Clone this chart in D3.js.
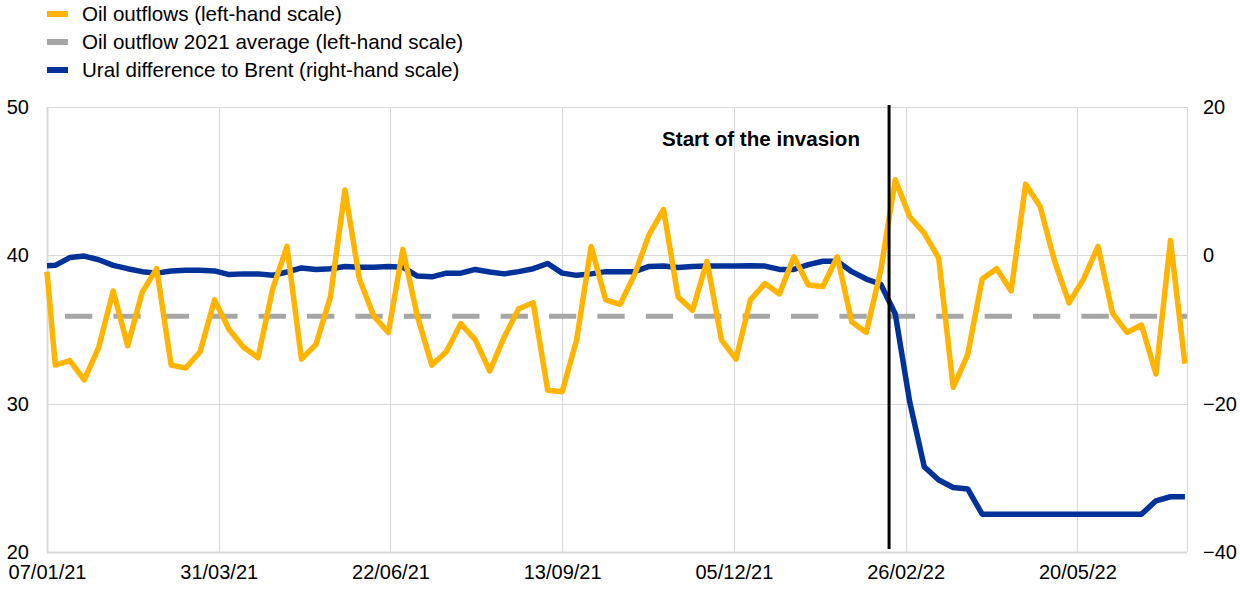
<!DOCTYPE html>
<html>
<head>
<meta charset="utf-8">
<script src="https://cdn.jsdelivr.net/npm/d3@7"></script>
<style>
  html, body { margin: 0; padding: 0; background: #fff; }
  svg { display: block; font-family: "Liberation Sans", Arial, sans-serif; }
</style>
</head>
<body>
<svg id="chart" width="1240" height="595"></svg>
<script>
// ---------------- data ----------------
const firstDate = "2021-01-07";
const firstMonday = "2021-01-11";
const lastDate = "2022-07-11";
const axisEndDate = "2022-07-12";
const xTickLabels = ["07/01/21", "31/03/21", "22/06/21", "13/09/21", "05/12/21", "26/02/22", "20/05/22"];
const leftTicks = [20, 30, 40, 50];
const rightTicks = [-40, -20, 0, 20];
const invasionDate = "2022-02-18";
const invasionLabel = "Start of the invasion";
const oilAverage2021 = 35.9;

const oilOutflows = [
  38.9, 32.6, 32.9, 31.6, 33.8, 37.6, 33.9, 37.5, 39.1, 32.6,
  32.4, 33.5, 37.0, 35.0, 33.8, 33.1, 37.7, 40.6, 33.0, 34.0,
  37.2, 44.4, 38.4, 35.9, 34.8, 40.4, 35.9, 32.6, 33.5, 35.4,
  34.3, 32.2, 34.5, 36.4, 36.8, 30.9, 30.8, 34.3, 40.6, 37.0,
  36.7, 38.7, 41.4, 43.1, 37.2, 36.3, 39.6, 34.3, 33.0, 37.0,
  38.1, 37.4, 39.9, 38.0, 37.9, 39.9, 35.5, 34.8, 39.0, 45.1,
  42.6, 41.5, 39.8, 31.1, 33.3, 38.4, 39.1, 37.6, 44.8, 43.3,
  39.6, 36.8, 38.4, 40.6, 36.1, 34.8, 35.3, 32.0, 41.0, 32.7
];
const uralDiffToBrent = [
  -1.4, -1.35, -0.3, -0.1, -0.6, -1.35, -1.8, -2.2, -2.4, -2.1,
  -2.0, -2.0, -2.1, -2.6, -2.5, -2.5, -2.7, -2.25, -1.7, -1.9,
  -1.8, -1.5, -1.6, -1.6, -1.5, -1.6, -2.8, -2.9, -2.4, -2.4,
  -1.9, -2.25, -2.5, -2.2, -1.8, -1.1, -2.4, -2.7, -2.5, -2.2,
  -2.2, -2.2, -1.5, -1.45, -1.65, -1.5, -1.45, -1.45, -1.45, -1.4,
  -1.45, -1.9, -1.9, -1.25, -0.8, -0.8, -2.2, -3.2, -3.9, -7.9,
  -19.8, -28.5, -30.3, -31.3, -31.5, -34.9, -34.9, -34.9, -34.9, -34.9,
  -34.9, -34.9, -34.9, -34.9, -34.9, -34.9, -34.9, -33.1, -32.55, -32.55
];
const legendItems = [
  { label: "Oil outflows (left-hand scale)", color: "#FFB400" },
  { label: "Oil outflow 2021 average (left-hand scale)", color: "#A6A6A6" },
  { label: "Ural difference to Brent (right-hand scale)", color: "#003299" }
];

// ---------------- setup ----------------
const parseISO = d3.utcParse("%Y-%m-%d");
const parseTick = d3.utcParse("%d/%m/%y");
const dates = [parseISO(firstDate)].concat(
  d3.utcMonday.range(parseISO(firstMonday), d3.utcDay.offset(parseISO(lastDate), 1))
);

const margin = { left: 47, right: 1187, top: 107, bottom: 552 };
const svg = d3.select("#chart");

const x = d3.scaleUtc().domain([parseISO(firstDate), parseISO(axisEndDate)]).range([margin.left, margin.right]);
const yL = d3.scaleLinear().domain([20, 50]).range([margin.bottom, margin.top]);
const yR = d3.scaleLinear().domain([-40, 20]).range([margin.bottom, margin.top]);

const tickDates = xTickLabels.map(parseTick);
const gridColor = "#D9D9D9";
const fontSize = 20;
const textSize = 20.6;

// gridlines
const grid = svg.append("g");
grid.selectAll("line.h").data(leftTicks).join("line")
  .attr("x1", margin.left).attr("x2", margin.right)
  .attr("y1", d => Math.round(yL(d)) + 0.5).attr("y2", d => Math.round(yL(d)) + 0.5)
  .attr("stroke", gridColor).attr("stroke-width", d => d === 20 ? 2 : 1);
grid.selectAll("line.v").data(tickDates.concat([parseISO(axisEndDate)])).join("line")
  .attr("x1", d => Math.round(x(d)) + 0.5).attr("x2", d => Math.round(x(d)) + 0.5)
  .attr("y1", margin.top).attr("y2", margin.bottom)
  .attr("stroke", gridColor).attr("stroke-width", (d, i) => i === 0 ? 2 : 1);

// axes labels via d3 axes
const axisLeft = d3.axisLeft(yL).tickValues(leftTicks).tickSize(0).tickPadding(18);
const gL = svg.append("g").attr("transform", `translate(${margin.left},0)`).call(axisLeft);
const axisRight = d3.axisRight(yR).tickValues(rightTicks).tickSize(0).tickPadding(16);
const gR = svg.append("g").attr("transform", `translate(${margin.right},0)`).call(axisRight);
const axisBottom = d3.axisBottom(x).tickValues(tickDates).tickSize(0).tickPadding(13)
  .tickFormat((d, i) => xTickLabels[i]);
const gB = svg.append("g").attr("transform", `translate(0,${margin.bottom})`).call(axisBottom);
[gL, gR, gB].forEach(g => {
  g.select(".domain").remove();
  g.selectAll("text").attr("font-size", fontSize).attr("fill", "#000")
    .attr("font-family", "'Liberation Sans', Arial, sans-serif");
});

// average line
svg.append("line")
  .attr("x1", margin.left).attr("x2", margin.right)
  .attr("y1", yL(oilAverage2021)).attr("y2", yL(oilAverage2021))
  .attr("stroke", "#A6A6A6").attr("stroke-width", 5)
  .attr("stroke-dasharray", "27.3 21.1").attr("stroke-dashoffset", 48.4 - 18);

// lines
const lineL = d3.line().x((d, i) => x(dates[i])).y(d => yL(d));
const lineR = d3.line().x((d, i) => x(dates[i])).y(d => yR(d));

svg.append("path").datum(uralDiffToBrent)
  .attr("d", lineR).attr("fill", "none").attr("stroke", "#003299")
  .attr("stroke-width", 5.5).attr("stroke-linejoin", "round");

svg.append("path").datum(oilOutflows)
  .attr("d", lineL).attr("fill", "none").attr("stroke", "#FFB400")
  .attr("stroke-width", 5.5).attr("stroke-linejoin", "round");

// invasion marker
const xi = x(parseISO(invasionDate));
svg.append("line")
  .attr("x1", xi).attr("x2", xi).attr("y1", 105).attr("y2", 549)
  .attr("stroke", "#000").attr("stroke-width", 3);
svg.append("text")
  .attr("x", 860).attr("y", 146)
  .attr("text-anchor", "end")
  .attr("font-size", textSize).attr("font-weight", "bold")
  .text(invasionLabel);

// legend
const lg = svg.append("g");
legendItems.forEach((item, i) => {
  const cy = 14 + i * 28;
  lg.append("line").attr("x1", 47).attr("x2", 68).attr("y1", cy).attr("y2", cy)
    .attr("stroke", item.color).attr("stroke-width", 6);
  lg.append("text").attr("x", 82).attr("y", cy).attr("dy", "0.35em")
    .attr("font-size", textSize).text(item.label);
});
</script>
</body>
</html>
